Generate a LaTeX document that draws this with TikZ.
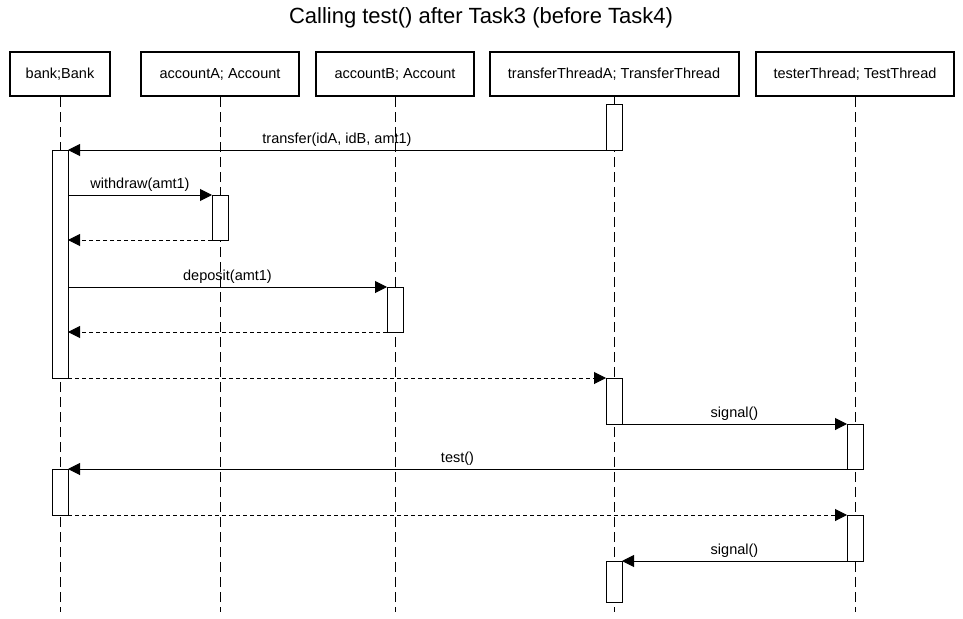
\documentclass[tikz,border=0pt]{standalone}
\usepackage{fontspec}
\setmainfont{Liberation Sans}
\usetikzlibrary{arrows.meta}

\begin{document}
\begin{tikzpicture}[x=1pt,y=-1pt,
  obj/.style={draw,rectangle,line width=2pt,minimum width=#1,minimum height=44pt,font=\fontsize{14.5}{17}\selectfont},
  act/.style={draw,rectangle,fill=white,line width=1pt,minimum width=16pt,minimum height=#1,anchor=north,inner sep=0pt,outer sep=0pt},
  life/.style={line width=1pt,dash pattern=on 10pt off 5pt},
  call/.style={-{Triangle[length=12pt,width=12pt]},line width=1pt},
  ret/.style={call,dash pattern=on 4pt off 3pt},
  lbl/.style={above,font=\fontsize{14.5}{17}\selectfont}]
\fill[white] (0,0) rectangle (963,618);
\node[font=\fontsize{22}{26}\selectfont] (title) at (481,18) {Calling test() after Task3 (before Task4)};

\node[obj=100pt] (bank) at (60,74) {bank;Bank};
\node[obj=158pt] (accA) at (220,74) {accountA; Account};
\node[obj=158pt] (accB) at (395,74) {accountB; Account};
\node[obj=249pt] (trA) at (614,74) {transferThreadA; TransferThread};
\node[obj=198pt] (tst) at (855,74) {testerThread; TestThread};

\coordinate (bankEnd) at (60,612);
\coordinate (accAEnd) at (220,612);
\coordinate (accBEnd) at (395,612);
\coordinate (trAEnd) at (614,612);
\coordinate (tstEnd) at (855,612);
\draw[life] (bank.south)--(bankEnd);
\draw[life] (accA.south)--(accAEnd);
\draw[life] (accB.south)--(accBEnd);
\draw[life] (trA.south)--(trAEnd);
\draw[life] (tst.south)--(tstEnd);

\node[act=46pt] (trA1) at (614,104) {};
\node[act=228pt] (bank1) at (60,150) {};
\node[act=45pt] (accA1) at (220,195) {};
\node[act=45pt] (accB1) at (395,287) {};
\node[act=46pt] (trA2) at (614,378) {};
\node[act=45pt] (tst1) at (855,424) {};
\node[act=46pt] (bank2) at (60,469) {};
\node[act=46pt] (tst2) at (855,515) {};
\node[act=41pt] (trA3) at (614,561) {};

\draw[call] (trA1.south west) -- node[lbl] {transfer(idA, idB, amt1)} (bank1.north east);
\draw[call] (bank1.east |- accA1.north) -- node[lbl] {withdraw(amt1)} (accA1.north west);
\draw[ret] (accA1.south west) -- (bank1.east |- accA1.south);
\draw[call] (bank1.east |- accB1.north) -- node[lbl] {deposit(amt1)} (accB1.north west);
\draw[ret] (accB1.south west) -- (bank1.east |- accB1.south);
\draw[ret] (bank1.south east) -- (trA2.north west);
\draw[call] (trA2.south east) -- node[lbl] {signal()} (tst1.north west);
\draw[call] (tst1.south west) -- node[lbl] {test()} (bank2.north east);
\draw[ret] (bank2.south east) -- (tst2.north west);
\draw[call] (tst2.south west) -- node[lbl] {signal()} (trA3.north east);
\end{tikzpicture}
\end{document}
